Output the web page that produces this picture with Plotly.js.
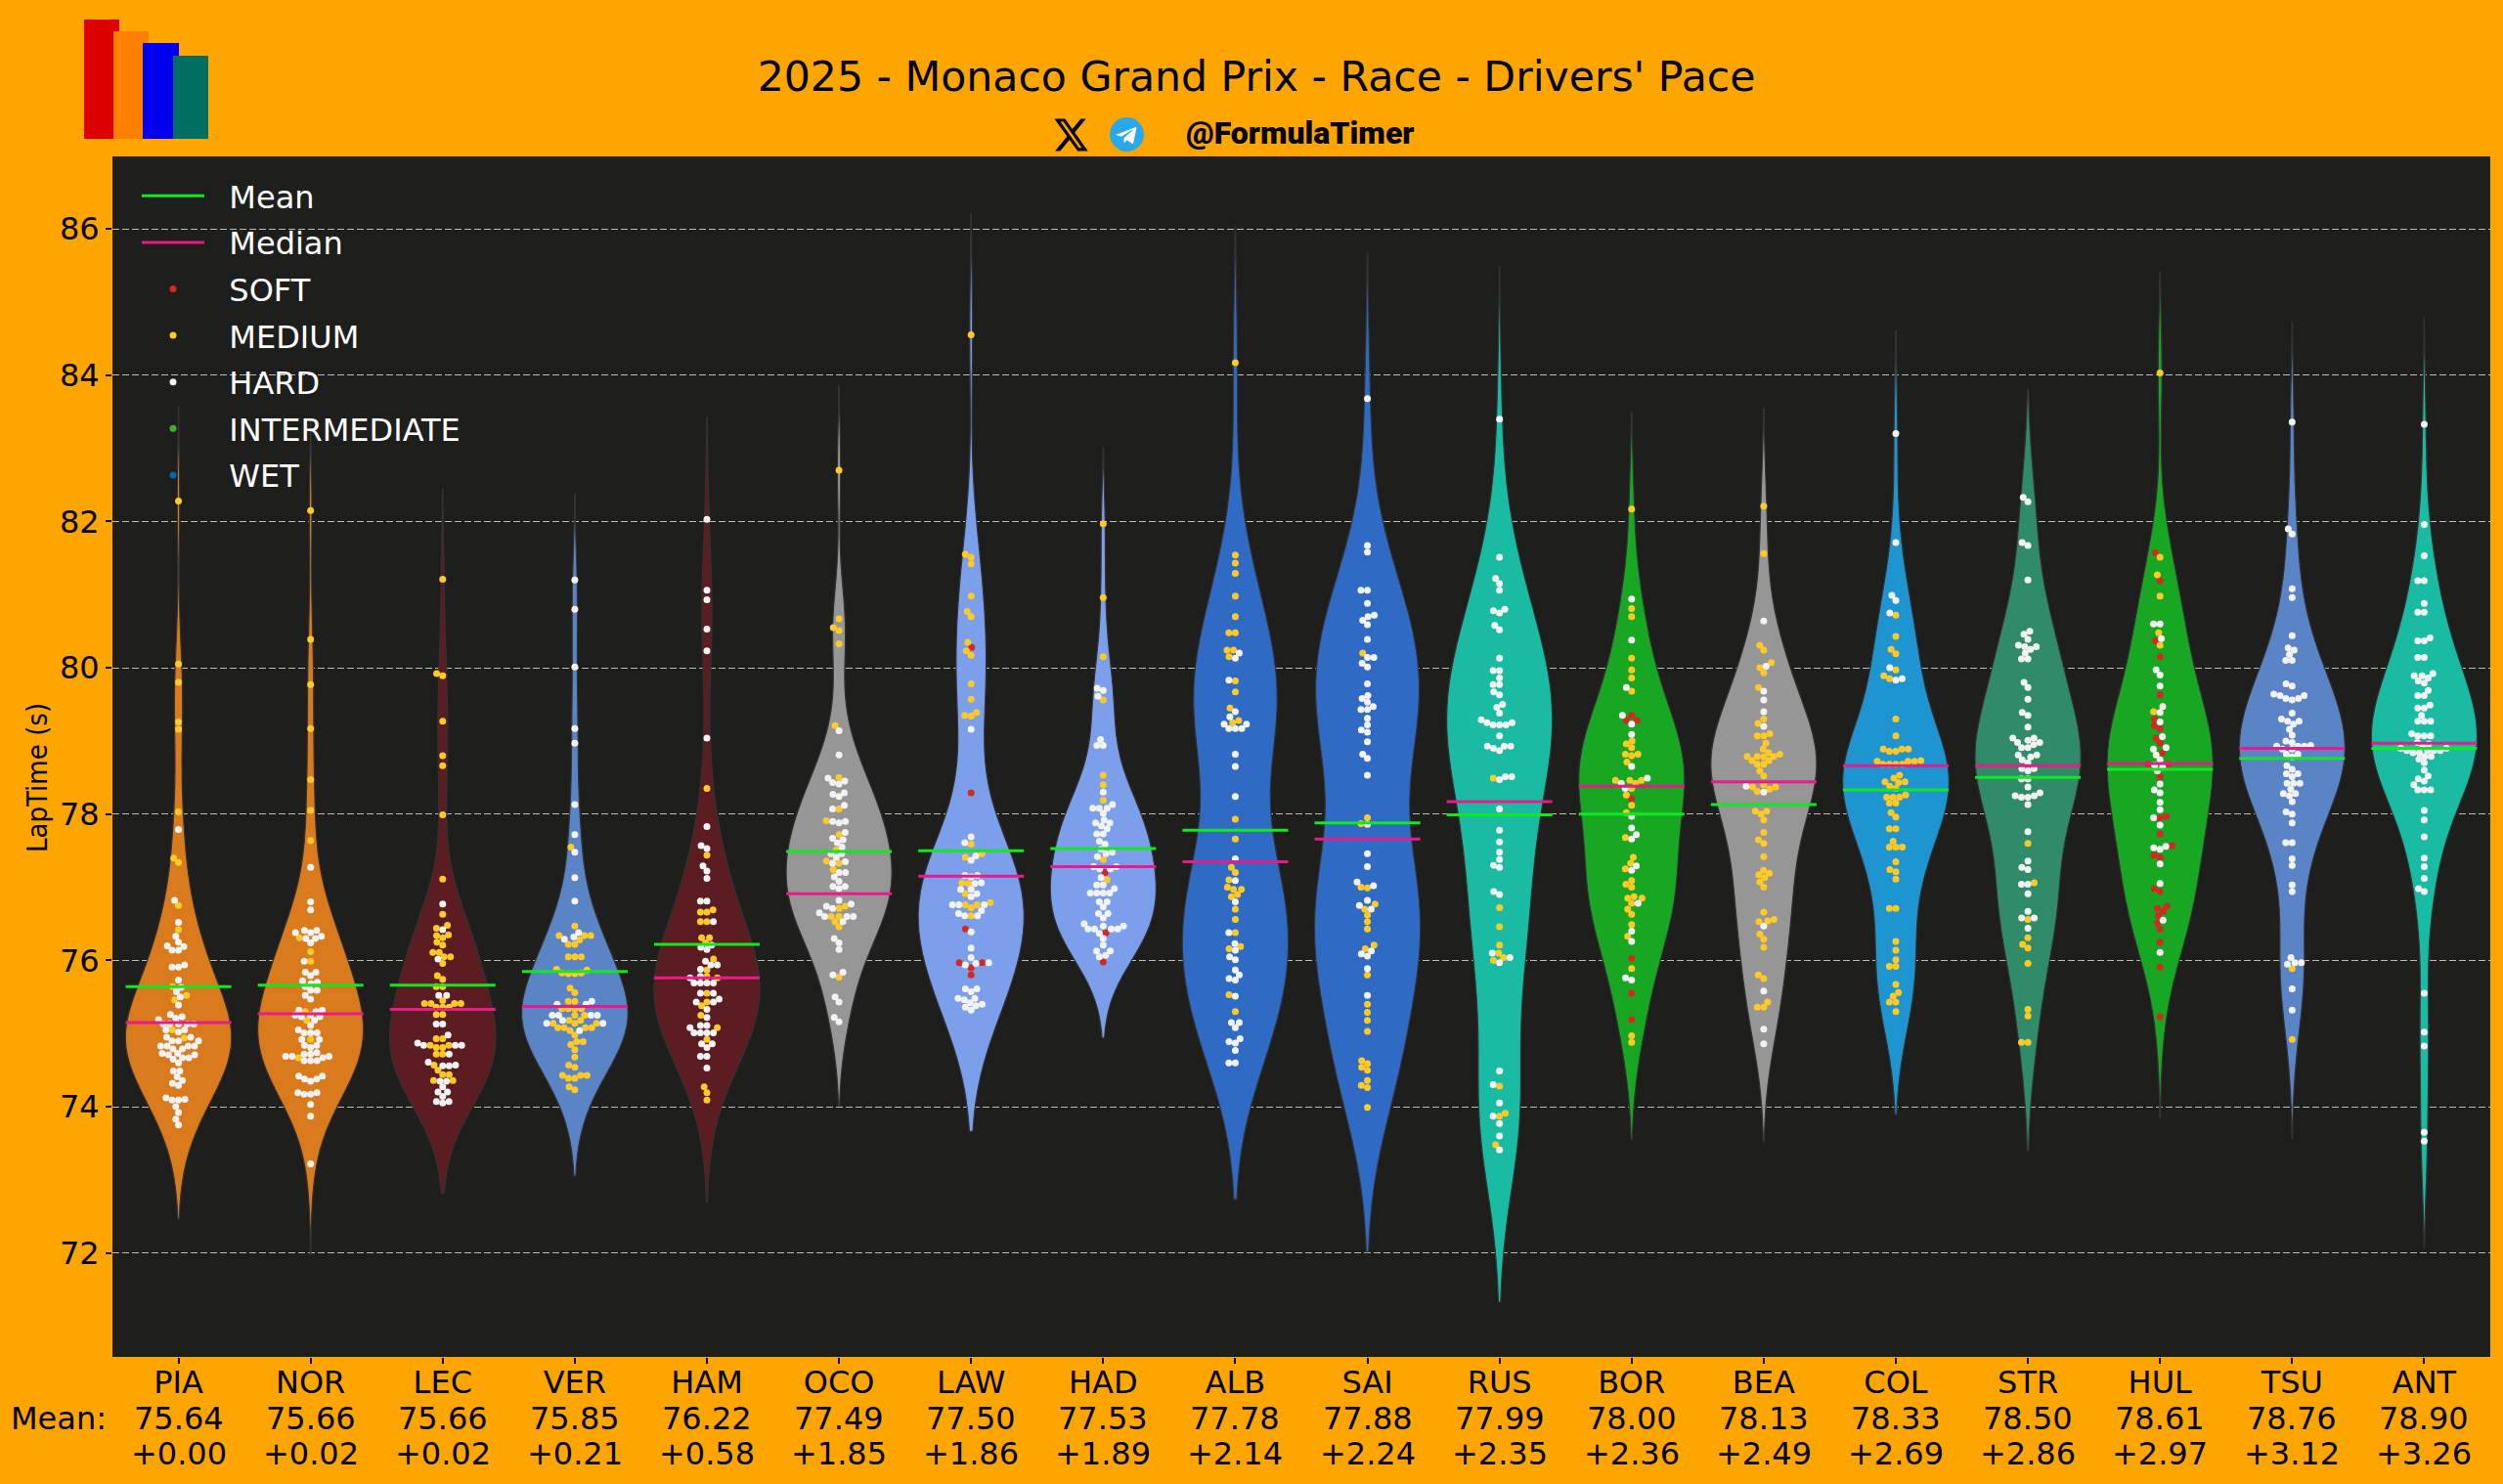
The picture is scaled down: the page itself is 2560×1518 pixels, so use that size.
<!DOCTYPE html>
<html>
<head>
<meta charset="utf-8">
<script src="https://cdn.plot.ly/plotly-3.0.1.min.js"></script>
<style>body { margin: 0; background: #FFA500; }</style>
</head>
<body>
<div id="chart"></div>
<script>
var drivers = ['PIA','NOR','LEC','VER','HAM','OCO','LAW','HAD','ALB','SAI','RUS','BOR','BEA','COL','STR','HUL','TSU','ANT']
var means = [75.64,75.66,75.66,75.85,76.22,77.49,77.50,77.53,77.78,77.88,77.99,78.00,78.13,78.33,78.50,78.61,78.76,78.90]
var medians = [75.15,75.27,75.33,75.37,75.76,76.91,77.15,77.28,77.35,77.66,78.17,78.38,78.44,78.66,78.66,78.69,78.90,78.97]
var gaps = ['+0.00','+0.02','+0.02','+0.21','+0.58','+1.85','+1.86','+1.89','+2.14','+2.24','+2.35','+2.36','+2.49','+2.69','+2.86','+2.97','+3.12','+3.26']
var violinColours = ['#D97A1D','#D97A1D','#5B1C22','#5A84C6','#5B1C22','#969696','#7C9FEB','#7C9FEB','#2F6AC4','#2F6AC4','#1ABBA3','#17A723','#969696','#1E95D0','#2F8B68','#17A723','#5A84C6','#1ABBA3']

var piaS = []
var piaM = [82.28,80.05,79.80,79.26,79.16,78.03,77.40,77.34,76.75,76.42,75.64,75.52,75.46,75.05,74.94]
var piaH = [77.79,76.82,76.52,76.33,76.25,76.20,76.19,76.14,76.14,75.94,75.91,75.91,75.73,75.63,75.57,75.50,75.39,75.26,75.23,75.21,75.19,75.13,75.13,75.13,75.13,75.13,75.05,75.05,75.02,74.95,74.95,74.90,74.90,74.90,74.83,74.83,74.83,74.83,74.79,74.79,74.73,74.73,74.71,74.71,74.67,74.67,74.65,74.60,74.49,74.49,74.41,74.36,74.32,74.29,74.12,74.10,74.09,74.09,74.00,73.92,73.83,73.75]

var norS = []
var norM = [82.15,80.39,79.77,79.17,78.47,78.05,77.64,76.31,76.12,75.99,75.30,75.18,74.92,74.67]
var norH = [77.27,76.80,76.69,76.41,76.41,76.38,76.38,76.33,76.30,76.30,76.24,75.99,75.84,75.84,75.79,75.72,75.70,75.68,75.64,75.59,75.59,75.52,75.47,75.32,75.32,75.30,75.25,75.25,75.23,75.23,75.18,75.11,75.05,75.01,75.01,75.01,74.92,74.92,74.84,74.84,74.81,74.74,74.72,74.72,74.69,74.69,74.69,74.67,74.63,74.63,74.63,74.42,74.42,74.38,74.38,74.35,74.19,74.19,74.17,74.17,74.03,73.87,73.22]

var lecS = []
var lecM = [81.21,79.92,79.89,79.27,78.80,78.66,77.99,77.11,76.63,76.48,76.44,76.35,76.34,76.31,76.25,76.21,76.11,76.11,76.05,76.05,75.96,75.79,75.74,75.64,75.64,75.45,75.41,75.41,75.41,75.41,75.36,75.36,75.36,75.26,75.26,74.93,74.93,74.84,74.84,74.81,74.81,74.72,74.72,74.57,74.50,74.44,74.44,74.36,74.36]
var lecH = [76.77,76.42,76.02,75.52,75.52,75.13,75.13,74.98,74.87,74.84,74.84,74.84,74.72,74.61,74.57,74.56,74.56,74.35,74.35,74.27,74.20,74.20,74.14,74.07,74.07,74.05]

var verS = []
var verM = [77.55,76.47,76.34,76.34,76.34,76.28,76.22,76.22,76.05,76.05,76.05,75.87,75.83,75.83,75.88,75.82,75.82,75.62,75.56,75.44,75.44,75.34,75.34,75.34,75.34,75.25,75.25,75.18,75.18,75.14,75.14,75.14,75.08,75.08,75.08,75.08,75.04,74.98,74.89,74.89,74.85,74.78,74.68,74.57,74.54,74.43,74.43,74.43,74.39,74.39,74.27,74.23]
var verH = [81.20,80.80,80.01,79.17,78.97,78.13,77.72,77.48,77.13,76.81,76.38,76.32,76.29,75.44,75.40,75.40,75.25,75.25,75.25,75.25,75.18,75.14,75.14,75.04]

var hamS = []
var hamM = [78.35,77.44,76.66,76.66,76.69,76.53,76.53,76.31,76.31,76.24,76.02,75.87,75.78,75.76,75.55,75.43,75.38,75.25,75.08,74.92,74.27,74.19,74.09]
var hamH = [82.03,81.06,80.93,80.53,80.23,79.04,77.83,77.57,77.53,77.29,77.22,77.12,76.81,76.81,76.53,76.21,76.18,76.15,75.99,75.94,75.94,75.88,75.78,75.76,75.69,75.69,75.69,75.69,75.55,75.55,75.47,75.43,75.43,75.33,75.22,75.11,75.11,75.08,75.01,75.01,75.01,75.01,74.86,74.86,74.81,74.69,74.69,74.53]

var ocoS = []
var ocoM = [82.70,80.67,80.55,80.51,80.33,79.21,78.50,78.07,77.91,77.72,77.51,77.36,77.33,77.24,76.74,76.71,76.60,76.60,76.53,76.46,75.77]
var ocoH = [79.14,78.81,78.49,78.45,78.43,78.41,78.29,78.27,78.24,78.12,78.07,77.90,77.90,77.88,77.75,77.67,77.65,77.61,77.55,77.46,77.46,77.41,77.35,77.33,77.20,77.20,77.14,77.08,77.01,77.01,76.98,76.82,76.77,76.74,76.71,76.65,76.60,76.60,76.60,76.53,76.30,76.24,76.15,75.84,75.80,75.50,75.43,75.22,75.16]

var lawS = [80.28,78.29,76.43,75.97,75.97,75.90,75.80]
var lawM = [84.55,81.55,81.51,81.42,80.98,80.77,80.70,80.35,80.23,80.17,79.78,79.57,79.39,79.35,79.34,77.59,77.46,77.41,77.06,77.05,76.91,76.79,76.76,76.76,76.72,76.61]
var lawH = [79.16,77.69,77.61,77.43,77.37,77.16,77.16,77.14,77.06,77.05,76.97,76.97,76.91,76.87,76.76,76.76,76.76,76.68,76.64,76.61,76.61,76.39,76.17,76.04,75.97,75.96,75.94,75.61,75.61,75.57,75.48,75.48,75.46,75.42,75.40,75.38,75.36,75.32]

var hadS = [77.20,76.38,75.98]
var hadM = [81.97,80.96,80.15,79.56,78.53,78.40,78.19,77.38,77.10]
var hadH = [79.72,79.69,79.61,79.02,78.94,78.94,78.30,78.13,78.08,78.08,78.08,78.01,77.92,77.88,77.88,77.84,77.80,77.73,77.73,77.63,77.59,77.52,77.48,77.46,77.42,77.28,77.28,77.25,77.25,77.13,77.03,77.03,76.98,76.92,76.92,76.92,76.92,76.80,76.80,76.73,76.64,76.64,76.58,76.50,76.47,76.47,76.43,76.43,76.43,76.43,76.37,76.30,76.21,76.13,76.13,76.07,76.05]

var albS = []
var albM = [84.17,81.54,81.43,81.29,80.98,80.70,80.48,80.48,80.24,80.24,80.15,79.82,79.67,79.45,79.28,79.25,77.93,77.66,77.27,77.20,77.10,77.00,76.97,76.97,76.90,76.87,76.70,76.56,76.38,76.19,76.16,75.53,75.30]
var albH = [80.20,80.13,79.83,79.40,79.33,79.23,79.23,79.17,79.17,79.17,78.82,78.65,78.24,77.39,77.09,76.80,76.38,76.23,76.14,76.05,76.01,75.87,75.80,75.75,75.73,75.51,75.15,75.15,75.08,74.93,74.89,74.87,74.77,74.60,74.60]

var saiS = []
var saiM = [80.20,77.95,77.87,77.00,76.99,76.77,76.70,76.62,76.53,76.43,76.21,76.16,75.80,75.40,75.29,75.18,75.03,74.63,74.59,74.54,74.50,74.36,74.29,74.26,73.99]
var saiH = [83.68,81.67,81.58,81.06,81.06,80.88,80.72,80.70,80.65,80.59,80.39,80.14,80.14,80.06,80.01,79.78,79.62,79.58,79.53,79.47,79.43,79.43,79.31,79.22,79.15,79.12,78.99,78.82,78.76,78.53,77.86,77.46,77.28,77.07,77.02,76.82,76.75,76.70,76.13,76.09,76.06,75.89,75.52]

var rusS = []
var rusM = [78.49,76.72,76.46,76.21,76.10,76.04,76.00,74.28,73.91,73.87,73.48]
var rusH = [83.40,81.51,81.22,81.15,81.06,80.80,80.78,80.75,80.58,80.52,80.13,79.96,79.96,79.86,79.77,79.77,79.67,79.63,79.50,79.46,79.38,79.29,79.25,79.25,79.22,79.22,79.22,79.07,78.93,78.93,78.93,78.90,78.87,78.51,78.51,78.47,78.07,77.78,77.62,77.48,77.38,77.30,77.27,76.94,76.90,76.10,76.04,75.97,74.49,74.30,74.05,73.87,73.77,73.60,73.41]

var borS = [79.35,79.28,79.28,78.21,76.03,75.55,75.19]
var borM = [82.17,80.81,80.70,80.13,79.97,79.86,79.68,79.00,78.96,78.91,78.82,78.82,78.80,78.71,78.46,78.46,78.46,78.42,78.35,78.26,78.12,78.02,77.68,77.41,77.33,77.25,77.09,77.04,77.00,76.87,76.85,76.85,76.78,76.70,76.63,76.49,76.33,75.89,74.97,74.88]
var borH = [80.94,80.38,79.73,79.35,79.23,79.09,78.65,78.49,78.42,78.35,77.97,77.81,77.72,77.66,77.29,77.23,76.78,76.40,76.26,75.76,75.73]

var beaS = []
var beaM = [82.21,81.56,80.31,80.24,80.07,80.00,79.93,79.73,79.30,79.24,79.10,79.07,79.07,78.97,78.89,78.84,78.82,78.79,78.79,78.79,78.78,78.73,78.73,78.68,78.68,78.59,78.52,78.40,78.37,78.37,78.34,78.31,78.04,78.04,78.00,77.92,77.75,77.65,77.60,77.42,77.23,77.19,77.17,77.13,77.07,77.00,76.66,76.56,76.54,76.53,76.36,76.29,76.18,75.80,75.75,75.43,75.36,75.36]
var beaH = [80.64,80.02,79.68,79.56,79.40,79.20,78.38,78.30,76.47,75.58,75.06,74.86]

var colS = []
var colM = [80.72,80.43,80.25,80.19,79.97,79.89,79.85,79.30,79.07,78.89,78.89,78.89,78.86,78.86,78.73,78.72,78.72,78.72,78.68,78.68,78.68,78.68,78.53,78.49,78.44,78.44,78.43,78.38,78.35,78.26,78.23,78.23,78.23,78.15,78.15,78.02,77.96,77.80,77.80,77.63,77.55,77.55,77.55,77.35,77.24,77.21,77.11,76.71,76.71,76.26,76.14,76.01,75.92,75.92,75.67,75.56,75.51,75.43,75.43,75.30]
var colH = [83.20,81.71,80.99,80.92,80.75,80.00,79.85,79.83]

var strS = []
var strM = [77.60,77.06,76.56,76.31,76.22,76.17,75.96,75.33,75.24,74.88,74.88]
var strH = [82.33,82.27,81.71,81.67,81.20,80.50,80.46,80.39,80.31,80.29,80.29,80.25,80.20,80.12,80.12,79.80,79.73,79.57,79.39,79.35,79.19,79.04,79.04,79.01,78.98,78.98,78.95,78.91,78.91,78.81,78.81,78.78,78.74,78.70,78.62,78.62,78.59,78.48,78.48,78.37,78.29,78.25,78.25,78.23,78.23,78.13,77.76,77.36,77.27,77.24,77.04,77.04,76.91,76.67,76.58,76.58,76.44]

var hulS = [81.57,81.19,80.37,80.15,79.63,79.30,79.21,79.17,79.04,78.97,78.84,78.68,78.68,78.51,77.97,77.95,77.73,77.57,77.44,77.41,76.98,76.94,76.74,76.71,76.67,76.61,76.51,76.43,76.25,75.91,75.23]
var hulM = [84.03,81.51,81.27,80.98,80.48,80.31,79.40]
var hulH = [80.60,80.60,80.40,79.97,79.90,79.75,79.47,79.39,79.26,79.06,78.91,78.89,78.81,78.74,78.67,78.64,78.59,78.41,78.33,78.29,78.16,78.06,77.95,77.85,77.56,77.54,77.52,77.32,77.05,76.55,76.11]

var tsuS = []
var tsuM = [75.89,74.92]
var tsuH = [83.36,81.90,81.83,81.08,80.96,80.44,80.27,80.24,80.18,80.10,80.10,79.78,79.75,79.64,79.62,79.62,79.58,79.58,79.56,79.38,79.30,79.27,79.27,79.23,79.16,79.08,79.00,78.98,78.94,78.93,78.93,78.93,78.89,78.89,78.82,78.82,78.78,78.66,78.61,78.55,78.55,78.51,78.42,78.42,78.42,78.34,78.28,78.28,78.25,78.17,78.03,78.00,77.88,77.61,77.61,77.39,77.30,77.03,76.94,76.04,75.97,75.97,75.95,75.61,75.32]

var antS = []
var antM = []
var antH = [83.33,81.96,81.53,81.19,81.19,80.88,80.76,80.76,80.41,80.37,80.37,80.14,80.14,79.92,79.89,79.89,79.86,79.82,79.79,79.69,79.62,79.62,79.49,79.45,79.45,79.35,79.27,79.27,79.27,79.10,79.07,79.07,79.07,78.98,78.96,78.93,78.90,78.90,78.87,78.87,78.87,78.87,78.84,78.84,78.79,78.79,78.75,78.70,78.60,78.52,78.48,78.45,78.40,78.33,78.33,78.33,78.05,77.92,77.69,77.40,77.28,77.12,76.98,76.94,75.55,75.02,74.83,73.65,73.53]

var softLaps = [piaS,norS,lecS,verS,hamS,ocoS,lawS,hadS,albS,saiS,rusS,borS,beaS,colS,strS,hulS,tsuS,antS]
var mediumLaps = [piaM,norM,lecM,verM,hamM,ocoM,lawM,hadM,albM,saiM,rusM,borM,beaM,colM,strM,hulM,tsuM,antM]
var hardLaps = [piaH,norH,lecH,verH,hamH,ocoH,lawH,hadH,albH,saiH,rusH,borH,beaH,colH,strH,hulH,tsuH,antH]

var WIDTH = 2560, HEIGHT = 1518
var LEFT = 115, RIGHT = 2547, TOP = 160, BOTTOM = 1388
var xRange = [-0.5, 17.5]
var yRange = [70.58, 86.99]
var DOT = 6.6

function pxX(px) { return (px - LEFT) / (RIGHT - LEFT) }
function pxY(px) { return (BOTTOM - px) / (BOTTOM - TOP) }

// scott bandwidth, same as the seaborn default
function scott(vals) {
  var m = vals.reduce(function (a, b) { return a + b }, 0) / vals.length
  var v = vals.reduce(function (a, b) { return a + (b - m) * (b - m) }, 0) / (vals.length - 1)
  return Math.sqrt(v) * Math.pow(vals.length, -0.2)
}

// swarm: every lap takes the free spot closest to the violin centre
function swarm(laps) {
  var unitY = (BOTTOM - TOP) / (yRange[1] - yRange[0])
  var unitX = (RIGHT - LEFT) / (xRange[1] - xRange[0])
  var sorted = laps.slice().sort(function (a, b) { return a.y - b.y })
  var placed = []
  sorted.forEach(function (lap) {
    var py = lap.y * unitY
    var near = placed.filter(function (p) { return Math.abs(p.py - py) < DOT })
    var options = [0]
    near.forEach(function (p) {
      var dx = Math.sqrt(DOT * DOT - (p.py - py) * (p.py - py))
      options.push(p.px - dx, p.px + dx)
    })
    options.sort(function (a, b) { return Math.abs(a) - Math.abs(b) })
    var spot = options.find(function (o) {
      return near.every(function (p) {
        return (p.px - o) * (p.px - o) + (p.py - py) * (p.py - py) >= DOT * DOT - 0.01
      })
    })
    placed.push({ px: spot, py: py, kind: lap.kind, y: lap.y })
  })
  return placed.map(function (p) { return { x: p.px / unitX, y: p.y, kind: p.kind } })
}

var data = []

drivers.forEach(function (d, i) {
  var all = softLaps[i].concat(mediumLaps[i], hardLaps[i])
  data.push({
    type: 'violin',
    x0: i,
    y: all,
    name: d,
    width: 0.8,
    scalemode: 'width',
    bandwidth: scott(all),
    points: false,
    fillcolor: violinColours[i],
    line: { color: '#333333', width: 1.2 },
    hoveron: 'violins',
    showlegend: false
  })
})

var dots = { SOFT: { x: [], y: [] }, MEDIUM: { x: [], y: [] }, HARD: { x: [], y: [] } }
drivers.forEach(function (d, i) {
  var laps = []
  softLaps[i].forEach(function (v) { laps.push({ y: v, kind: 'SOFT' }) })
  mediumLaps[i].forEach(function (v) { laps.push({ y: v, kind: 'MEDIUM' }) })
  hardLaps[i].forEach(function (v) { laps.push({ y: v, kind: 'HARD' }) })
  swarm(laps).forEach(function (p) {
    dots[p.kind].x.push(i + p.x)
    dots[p.kind].y.push(p.y)
  })
})

function statLine(name, vals, colour, rank) {
  var x = [], y = []
  vals.forEach(function (v, i) {
    x.push(i - 0.4, i + 0.4, null)
    y.push(v, v, null)
  })
  return {
    type: 'scatter', mode: 'lines', name: '\u00a0\u00a0' + name, x: x, y: y,
    line: { color: colour, width: 3 }, legendgroup: name, legendrank: rank
  }
}

function dotTrace(name, xs, ys, colour, rank) {
  return {
    type: 'scatter', mode: 'markers', name: '\u00a0\u00a0' + name, x: xs, y: ys,
    marker: { color: colour, size: 7 }, legendgroup: name, legendrank: rank
  }
}

data.push(dotTrace('SOFT', dots.SOFT.x, dots.SOFT.y, '#D32A20', 3))
data.push(dotTrace('MEDIUM', dots.MEDIUM.x, dots.MEDIUM.y, '#FFC926', 4))
data.push(dotTrace('HARD', dots.HARD.x, dots.HARD.y, '#F2F2F2', 5))
data.push(dotTrace('INTERMEDIATE', [null], [null], '#43B02A', 6))
data.push(dotTrace('WET', [null], [null], '#0067AD', 7))
data.push(statLine('Mean', means, '#10E820', 1))
data.push(statLine('Median', medians, '#E81A8C', 2))

var annotations = [
  { text: 'Mean:', xref: 'paper', yref: 'paper', x: pxX(111), y: pxY(1451), xanchor: 'right', yanchor: 'middle', showarrow: false, font: { size: 32, color: '#000' } },
  { text: 'LapTime (s)', xref: 'paper', yref: 'paper', x: pxX(38), y: pxY(796), xanchor: 'center', yanchor: 'middle', textangle: -90, showarrow: false, font: { family: 'DejaVu Sans Condensed', size: 29, color: '#000' } },
  { text: '@FormulaTimer', xref: 'paper', yref: 'paper', x: pxX(1329), y: pxY(136), xanchor: 'center', yanchor: 'middle', showarrow: false, font: { family: 'Roboto', weight: 900, size: 32, color: '#000' } }
]
drivers.forEach(function (d, i) {
  annotations.push({ text: means[i].toFixed(2), xref: 'x', yref: 'paper', x: i, y: pxY(1451), yanchor: 'middle', showarrow: false, font: { size: 32, color: '#000' } })
  annotations.push({ text: gaps[i], xref: 'x', yref: 'paper', x: i, y: pxY(1487), yanchor: 'middle', showarrow: false, font: { size: 32, color: '#000' } })
})

var logoBars = [[86, 122, 20, '#DC0000'], [116, 152, 32, '#FF8000'], [146, 183, 44, '#0000EE'], [177, 213, 57, '#006F62']]
var shapes = logoBars.map(function (b) {
  return { type: 'rect', xref: 'paper', yref: 'paper', x0: pxX(b[0]), x1: pxX(b[1]), y0: pxY(b[2]), y1: pxY(142), fillcolor: b[3], line: { width: 0 } }
})

var xIcon = "<svg xmlns='http://www.w3.org/2000/svg' viewBox='1 2 22 20' preserveAspectRatio='none'><path d='M18.244 2.25h3.308l-7.227 8.26 8.502 11.24H16.17l-5.214-6.817L4.99 21.75H1.68l7.73-8.835L1.254 2.25H8.08l4.713 6.231zm-1.161 17.52h1.833L7.084 4.126H5.117z'/></svg>"
var tgIcon = "<svg xmlns='http://www.w3.org/2000/svg' viewBox='0 0 24 24' preserveAspectRatio='none'><circle cx='12' cy='12' r='12' fill='#29A9EB'/><path fill='#fff' d='M5.5 11.9 17.8 7c.6-.2 1.1.1.9.9l-2.1 9.9c-.2.7-.6.9-1.2.5l-3.2-2.4-1.6 1.5c-.2.2-.3.3-.7.3l.2-3.3 6-5.4c.3-.2-.1-.4-.4-.2l-7.4 4.7-3.2-1c-.7-.2-.7-.7.2-1z'/></svg>"
function icon(svg, x0, x1, y0, y1) {
  return {
    source: 'data:image/svg+xml;utf8,' + encodeURIComponent(svg),
    xref: 'paper', yref: 'paper', x: pxX(x0), y: pxY(y0),
    sizex: (x1 - x0) / (RIGHT - LEFT), sizey: (y1 - y0) / (BOTTOM - TOP),
    sizing: 'stretch', xanchor: 'left', yanchor: 'top', layer: 'above'
  }
}

var layout = {
  width: WIDTH,
  height: HEIGHT,
  paper_bgcolor: '#FFA500',
  plot_bgcolor: '#1E1E1C',
  font: { family: 'DejaVu Sans', color: '#000', size: 32 },
  margin: { l: LEFT, r: WIDTH - RIGHT, t: TOP, b: HEIGHT - BOTTOM, pad: 0 },
  title: {
    text: "2025 - Monaco Grand Prix - Race - Drivers' Pace",
    font: { size: 42.6, color: '#000' },
    x: 1285 / WIDTH, xanchor: 'center',
    y: 1 - 78 / HEIGHT, yanchor: 'middle'
  },
  xaxis: {
    type: 'linear',
    range: xRange,
    tickmode: 'array',
    tickvals: drivers.map(function (d, i) { return i }),
    ticktext: drivers,
    ticks: 'outside', ticklen: 6, tickwidth: 1.5, tickcolor: '#000',
    tickfont: { size: 32, color: '#000' },
    ticklabelstandoff: -8,
    showgrid: false, zeroline: false, showline: false
  },
  yaxis: {
    range: yRange,
    tickmode: 'array',
    tickvals: [72, 74, 76, 78, 80, 82, 84, 86],
    ticks: 'outside', ticklen: 6, tickwidth: 1.5, tickcolor: '#000',
    tickfont: { size: 32, color: '#000' },
    gridcolor: 'rgba(255,255,255,0.7)', gridwidth: 1, griddash: '7px,3px',
    zeroline: false, showline: false
  },
  legend: {
    x: pxX(140), y: pxY(173), xanchor: 'left', yanchor: 'top',
    bgcolor: 'rgba(0,0,0,0)', borderwidth: 0,
    font: { size: 32, color: '#fff' },
    itemwidth: 64, tracegroupgap: 3, traceorder: 'grouped'
  },
  showlegend: true,
  annotations: annotations,
  shapes: shapes,
  images: [icon(xIcon, 1078, 1113, 121, 155), icon(tgIcon, 1135, 1170, 120, 155)]
}

Plotly.newPlot('chart', data, layout, { displayModeBar: false })
</script>
</body>
</html>
